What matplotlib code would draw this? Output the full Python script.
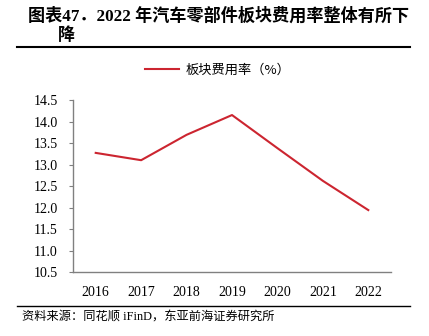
import matplotlib
matplotlib.use("Agg")
import matplotlib.pyplot as plt
from matplotlib.lines import Line2D

plt.rcParams['font.family'] = ['Liberation Serif', 'Noto Sans CJK SC']

years = ["2016", "2017", "2018", "2019", "2020", "2021", "2022"]
rate = [13.27, 13.10, 13.69, 14.15, 13.38, 12.62, 11.94]
yticks = [10.5, 11.0, 11.5, 12.0, 12.5, 13.0, 13.5, 14.0, 14.5]

fig = plt.figure(figsize=(4.29, 3.36), dpi=100)
W, H = 429, 336
ax = fig.add_axes([73 / W, 1 - 272 / H, (391 - 73) / W, (272 - 100) / H])

x = range(len(years))
ax.plot(x, rate, color="#cc2530", lw=1.5, label="板块费用率（%）")
ax.set_xlim(-0.5, len(years) - 0.5)
ax.set_ylim(10.5, 14.5)
ax.set_yticks(yticks)
ax.set_yticklabels([f"{v:.1f}" for v in yticks], fontsize=10)
ax.set_xticks(list(x))
ax.set_xticklabels(years, fontsize=10)
ax.tick_params(axis="x", length=0, pad=10)
ax.tick_params(axis="y", length=3, color="#808080", pad=8, direction="out")
for s in ["top", "right"]:
    ax.spines[s].set_visible(False)
for s in ["left", "bottom"]:
    ax.spines[s].set_color("#808080")
    ax.spines[s].set_linewidth(1.0)

leg = fig.legend(handles=[Line2D([], [], color="#cc2530", lw=1.5)],
                 labels=["板块费用率（%）"], loc="center",
                 bbox_to_anchor=(218 / W, 1 - 70 / H), frameon=False,
                 prop={"family": ["Noto Sans CJK SC"], "size": 9.5},
                 handlelength=2.6, handletextpad=0.5)

fig.text(28 / W, 1 - 16 / H, "图表47．2022 年汽车零部件板块费用率整体有所下",
         fontsize=12.3, fontweight="bold", va="center", ha="left",
         family=["Liberation Serif", "Noto Sans CJK SC"])
fig.text(58 / W, 1 - 35 / H, "降", fontsize=12.3, fontweight="bold",
         va="center", ha="left", family=["Noto Sans CJK SC"])
fig.add_artist(Line2D([17 / W, 410 / W], [1 - 47 / H, 1 - 47 / H],
                      color="black", lw=1.5))
fig.add_artist(Line2D([17 / W, 410 / W], [1 - 306 / H, 1 - 306 / H],
                      color="black", lw=1.0))
fig.text(22 / W, 1 - 318 / H, "资料来源：同花顺 iFinD，东亚前海证券研究所",
         fontsize=8.8, va="center", ha="left",
         family=["Liberation Serif", "Noto Sans CJK SC"])

fig.savefig("out.png", dpi=100)
